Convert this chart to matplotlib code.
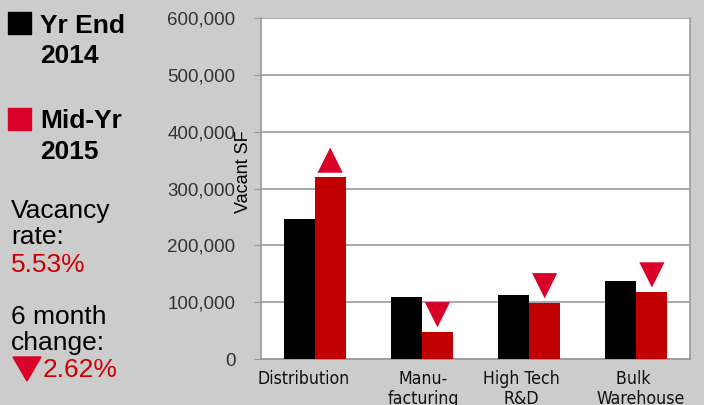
import matplotlib.pyplot as plt
import matplotlib.transforms as mtransforms
from matplotlib.patches import Rectangle, Polygon
from matplotlib.ticker import FuncFormatter
import numpy as np

# Vacant square feet by property type
categories = ['Distribution', 'Manu-\nfacturing', 'High Tech\nR&D', 'Bulk   \nWarehouse']
yr_end_2014 = [246000, 109000, 113000, 137000]
mid_yr_2015 = [320000, 48000, 99000, 118000]
direction = ['up', 'down', 'down', 'down']

vacancy_rate = '5.53%'
six_month_change = '2.62%'

BG = '#cccccc'
BAR_RED = '#c00000'
MARK_RED = '#d9002a'
TEXT_RED = '#cc0000'

W, H = 704, 405


def fx(px):
    return px / W


def fy(py):
    return 1 - py / H


fig = plt.figure(figsize=(7.04, 4.05), dpi=100, facecolor=BG)
ax = fig.add_axes([fx(261), fy(359), 429 / W, 341 / H])
ax.set_facecolor('white')

x = np.arange(len(categories))
w = 0.29
ax.bar(x - w / 2, yr_end_2014, w, color='black', zorder=3)
ax.bar(x + w / 2, mid_yr_2015, w, color=BAR_RED, zorder=3)

# arrow markers sitting just above the 2015 bars
offset = mtransforms.offset_copy(ax.transData, fig=fig, x=0, y=17, units='dots')
for xi, val, d in zip(x, mid_yr_2015, direction):
    ax.scatter(xi + w / 2, val, marker='^' if d == 'up' else 'v', s=330,
               color=MARK_RED, edgecolors='none', transform=offset, zorder=4,
               clip_on=False)

ax.set_xlim(-0.5, len(categories) - 0.5)
ax.set_ylim(0, 600000)
ax.set_yticks(np.arange(0, 600001, 100000))
ax.yaxis.set_major_formatter(FuncFormatter(lambda v, p: f'{int(v):,}'))
ax.grid(axis='y', color='#999999', linewidth=1.2, zorder=0)
ax.set_xticks(x)
ax.set_xticklabels(categories, fontsize=12.7, family='DejaVu Sans', fontstretch='condensed',
                   color='#111111', linespacing=1.12)
ax.tick_params(axis='x', length=0, pad=8)
ax.tick_params(axis='y', length=5, color='#999999', labelsize=13.5, labelcolor='#333333', pad=13.5)
for lab in ax.get_yticklabels():
    lab.set_family(['Liberation Sans', 'DejaVu Sans'])

# small horizontal nudges for the category labels
nudges = [-11, 1, -8, 4]
for lab, dx in zip(ax.get_xticklabels(), nudges):
    lab.set_transform(lab.get_transform() +
                      mtransforms.ScaledTranslation(dx / 100, 0, fig.dpi_scale_trans))

ax.spines['top'].set_visible(False)
for s in ['left', 'right', 'bottom']:
    ax.spines[s].set_color('#999999')
    ax.spines[s].set_linewidth(1.2)
ax.set_ylabel('Vacant SF', fontsize=13, family='Liberation Sans')
ax.yaxis.set_label_coords(-0.021, 0.548)

# left-hand legend and summary text
fig.patches.append(Rectangle((fx(8), fy(34)), 23 / W, 22 / H,
                             transform=fig.transFigure, color='black'))
fig.patches.append(Rectangle((fx(8), fy(130)), 23 / W, 22 / H,
                             transform=fig.transFigure, color=MARK_RED))
bold = dict(fontsize=19, fontweight='bold', family='Liberation Sans',
            va='baseline', ha='left')
fig.text(fx(40), fy(33), 'Yr End', **bold)
fig.text(fx(40), fy(63), '2014', **bold)
fig.text(fx(40), fy(128), 'Mid-Yr', **bold)
fig.text(fx(40), fy(159), '2015', **bold)

reg = dict(fontsize=19, family='Liberation Sans', va='baseline', ha='left')
fig.text(fx(11), fy(218), 'Vacancy', **reg)
fig.text(fx(11), fy(244), 'rate:', **reg)
fig.text(fx(11), fy(272), vacancy_rate, color=TEXT_RED, **reg)
fig.text(fx(11), fy(324), '6 month', **reg)
fig.text(fx(11), fy(350), 'change:', **reg)
fig.patches.append(Polygon([(fx(13), fy(357)), (fx(41), fy(357)), (fx(27), fy(381))],
                           closed=True, transform=fig.transFigure, color=MARK_RED))
fig.text(fx(43), fy(377), six_month_change, color=TEXT_RED, **reg)

fig.savefig('out.png', dpi=100, facecolor=BG)
